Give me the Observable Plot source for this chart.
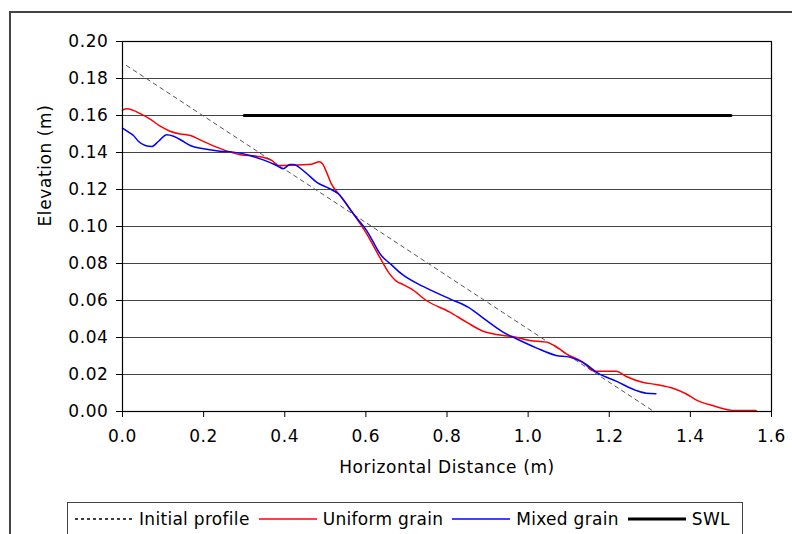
<!DOCTYPE html>
<html><head><meta charset="utf-8">
<script src="https://cdn.jsdelivr.net/npm/d3@7"></script>
<script src="https://cdn.jsdelivr.net/npm/@observablehq/plot@0.6"></script>
<style>
body{margin:0;background:#fff;font-family:"DejaVu Sans",sans-serif;}
#wrap{position:relative;width:792px;height:534px;overflow:hidden;background:#fff;}
#border{position:absolute;left:9px;top:11px;width:900px;height:900px;border:2px solid #444;box-sizing:border-box;}
#chart{position:absolute;left:0;top:0;}
#chart svg text{letter-spacing:0.6px;}
#legend{position:absolute;left:67px;top:502px;width:676px;height:60px;border:1px solid #444;box-sizing:border-box;display:flex;align-items:flex-start;padding-left:7px;font-size:17px;letter-spacing:0.3px;color:#000;}
.item{display:flex;align-items:center;height:31px;}
.item span{margin-left:6px;margin-right:9px;white-space:nowrap;}
</style>
</head><body>
<div id="wrap"><div id="border"></div><div id="chart"></div><div id="legend"></div></div>
<script>
const xTicks = [0, 0.2, 0.4, 0.6, 0.8, 1.0, 1.2, 1.4, 1.6];
const yTicks = [0, 0.02, 0.04, 0.06, 0.08, 0.10, 0.12, 0.14, 0.16, 0.18, 0.20];

const initialX = [0.01, 1.31];
const initialY = [0.187, 0.0];

const swlX = [0.3, 1.5];
const swlY = [0.16, 0.16];

const uniformX = [0, 0.011, 0.044, 0.068, 0.093, 0.117, 0.142, 0.167, 0.199, 0.232, 0.265, 0.29, 0.331, 0.368, 0.384, 0.413, 0.466, 0.485, 0.493, 0.503, 0.515, 0.536, 0.569, 0.602, 0.634, 0.655, 0.675, 0.692, 0.712, 0.749, 0.807, 0.848, 0.889, 0.922, 0.962, 1.004, 1.045, 1.069, 1.094, 1.135, 1.164, 1.217, 1.242, 1.282, 1.315, 1.36, 1.389, 1.414, 1.455, 1.512, 1.562];
const uniformY = [0.163, 0.1636, 0.161, 0.158, 0.1542, 0.1515, 0.150, 0.1492, 0.146, 0.1429, 0.1402, 0.1388, 0.138, 0.1357, 0.133, 0.1331, 0.1337, 0.135, 0.1339, 0.1294, 0.123, 0.1168, 0.1069, 0.096, 0.0834, 0.0755, 0.0705, 0.0686, 0.0663, 0.060, 0.0537, 0.0483, 0.0434, 0.0416, 0.0405, 0.0384, 0.0375, 0.0351, 0.0312, 0.0267, 0.0218, 0.0218, 0.0189, 0.0158, 0.0146, 0.0123, 0.0096, 0.0063, 0.0032, 0.0005, 0.0005];

const mixedX = [0, 0.015, 0.027, 0.039, 0.056, 0.072, 0.089, 0.109, 0.126, 0.146, 0.167, 0.2, 0.24, 0.273, 0.314, 0.347, 0.38, 0.396, 0.413, 0.421, 0.45, 0.479, 0.511, 0.532, 0.569, 0.602, 0.638, 0.662, 0.688, 0.741, 0.807, 0.852, 0.897, 0.938, 0.971, 1.02, 1.069, 1.102, 1.143, 1.172, 1.217, 1.266, 1.291, 1.315];
const mixedY = [0.1532, 0.151, 0.1492, 0.1461, 0.1438, 0.1432, 0.1461, 0.1496, 0.1488, 0.1465, 0.1438, 0.142, 0.1407, 0.1402, 0.1384, 0.136, 0.133, 0.1312, 0.1335, 0.1335, 0.1294, 0.1239, 0.1204, 0.1177, 0.1069, 0.0978, 0.0843, 0.0795, 0.0744, 0.0676, 0.0609, 0.0564, 0.0492, 0.0429, 0.0393, 0.0344, 0.0303, 0.0294, 0.0254, 0.0207, 0.0164, 0.0114, 0.0099, 0.0096];

const seriesNames = ["Initial profile", "Uniform grain", "Mixed grain", "SWL"];

const zip = (xs, ys) => xs.map((x, i) => ({x, y: ys[i]}));
const initial = zip(initialX, initialY);
const swl = zip(swlX, swlY);
const uniform = zip(uniformX, uniformY);
const mixed = zip(mixedX, mixedY);

const chart = Plot.plot({
  width: 792,
  height: 534,
  marginLeft: 122,
  marginRight: 21,
  marginTop: 41,
  marginBottom: 123,
  style: {fontFamily: "DejaVu Sans, sans-serif", fontSize: "17px", color: "#000", background: "transparent"},
  x: {domain: [0, 1.6], ticks: xTicks, tickFormat: d3.format(".1f"), tickSize: 6, tickPadding: 12, label: null},
  y: {domain: [0, 0.2], ticks: yTicks, tickFormat: d3.format(".2f"), tickSize: 6, tickPadding: 8, label: null},
  marks: [
    Plot.ruleY(yTicks.slice(1), {stroke: "#444", strokeWidth: 1.2}),
    Plot.line(initial, {x: "x", y: "y", stroke: "#555", strokeWidth: 1, strokeDasharray: "4,4"}),
    Plot.line(swl, {x: "x", y: "y", stroke: "#000", strokeWidth: 3}),
    Plot.line(uniform, {x: "x", y: "y", stroke: "#ff0000", strokeWidth: 1.5, curve: "monotone-x"}),
    Plot.line(mixed, {x: "x", y: "y", stroke: "#0000ff", strokeWidth: 1.5, curve: "monotone-x"}),
    Plot.frame({stroke: "#000", strokeWidth: 1.2}),
    Plot.axisX({ticks: xTicks, tickFormat: d3.format(".1f"), tickSize: 6, tickPadding: 12, label: null, fontSize: 17}),
    Plot.axisY({ticks: yTicks, tickFormat: d3.format(".2f"), tickSize: 6, tickPadding: 8, label: null, fontSize: 17}),
    Plot.text(["Horizontal Distance (m)"], {frameAnchor: "bottom", dy: 61, fontSize: 17, fill: "#000"}),
    Plot.text(["Elevation (m)"], {frameAnchor: "left", dx: -77, rotate: -90, fontSize: 17, fill: "#000"})
  ]
});
document.getElementById("chart").appendChild(chart);

const styles = [
  {stroke: "#000", width: 1.5, dash: "3,3"},
  {stroke: "#ff0000", width: 1.5, dash: null},
  {stroke: "#0000ff", width: 1.5, dash: null},
  {stroke: "#000", width: 3, dash: null}
];
const legend = document.getElementById("legend");
seriesNames.forEach((name, i) => {
  const s = styles[i];
  const item = document.createElement("div");
  item.className = "item";
  item.innerHTML = `<svg width="58" height="10"><line x1="0" x2="58" y1="5" y2="5" stroke="${s.stroke}" stroke-width="${s.width}" ${s.dash ? `stroke-dasharray="${s.dash}"` : ""}/></svg><span>${name}</span>`;
  legend.appendChild(item);
});
</script>
</body></html>
